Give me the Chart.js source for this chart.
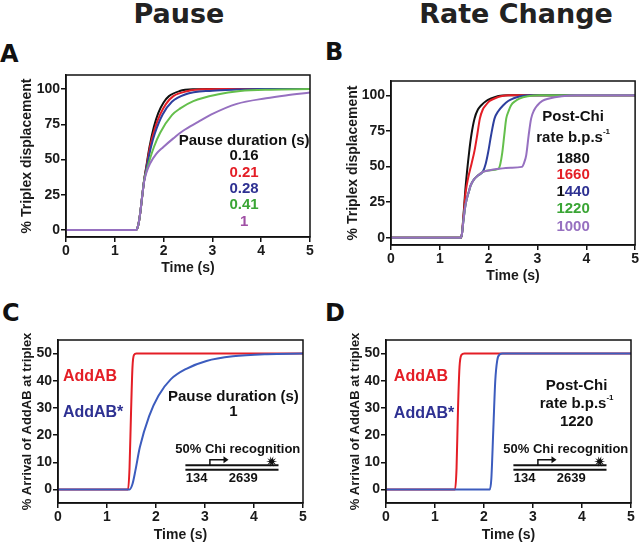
<!DOCTYPE html>
<html>
<head>
<meta charset="utf-8">
<script src="https://cdn.jsdelivr.net/npm/chart.js@4.4.1/dist/chart.umd.min.js"></script>
<style>
    body { margin: 0; background: #fff; }
    #page { position: relative; width: 640px; height: 542px; overflow: hidden; background: #fff; }
    #page canvas { position: absolute; }
    .head { position: absolute; font: bold 27px "DejaVu Sans", sans-serif; line-height: 27px; color: #222; white-space: nowrap; }
    .letter { position: absolute; font: bold 24px "DejaVu Sans", sans-serif; line-height: 24px; color: #111; }
</style>
</head>
<body>
<div id="page">
    <div class="head" style="left:0; width:358px; text-align:center; top:0;">Pause</div>
    <div class="head" style="left:395px; width:242px; text-align:center; top:0;">Rate Change</div>
    <div class="letter" style="left:0; top:42px;">A</div>
    <div class="letter" style="left:325px; top:40px;">B</div>
    <div class="letter" style="left:2px; top:301px;">C</div>
    <div class="letter" style="left:325px; top:301px;">D</div>

    <canvas id="chart-a" width="320" height="225" style="left:0; top:65px;"></canvas>
    <canvas id="chart-b" width="320" height="225" style="left:320px; top:65px;"></canvas>
    <canvas id="chart-c" width="320" height="214" style="left:0; top:330px;"></canvas>
    <canvas id="chart-d" width="320" height="214" style="left:320px; top:330px;"></canvas>
</div>

<script>
// shared axis ticks
const timeTicks = [0, 1, 2, 3, 4, 5];
const displacementTicks = [0, 25, 50, 75, 100];
const arrivalTicks = [0, 10, 20, 30, 40, 50];

// legend labels
const pauseDurations = ['0.16', '0.21', '0.28', '0.41', '1'];
const postChiRates = ['1880', '1660', '1440', '1220', '1000'];

// A: pause model, [time, % displacement]
const pauseBlack = [[0, 0], [1.44, 0], [1.47, 2], [1.5, 7], [1.52, 11.7], [1.56, 23.5], [1.6, 35], [1.65, 46], [1.71, 58.7], [1.8, 73], [1.89, 83], [2.0, 90.5], [2.11, 95], [2.33, 98.6], [2.6, 99.8], [3, 100], [5, 100]];
const pauseRed = [[0, 0], [1.44, 0], [1.47, 2], [1.5, 7], [1.52, 11.7], [1.56, 23.5], [1.6, 35], [1.65, 45], [1.72, 58.7], [1.82, 72], [1.93, 82], [2.05, 89.5], [2.2, 95], [2.5, 98.6], [2.8, 99.8], [3.2, 100], [5, 100]];
const pauseBlue = [[0, 0], [1.44, 0], [1.47, 2], [1.5, 7], [1.52, 11.7], [1.56, 23.5], [1.6, 35], [1.65, 44], [1.74, 58.7], [1.82, 68.5], [1.98, 82], [2.17, 91], [2.44, 96.2], [3.0, 98.9], [3.5, 99.7], [4, 100], [5, 100]];
const pauseGreen = [[0, 0], [1.44, 0], [1.47, 2], [1.5, 7], [1.52, 11.7], [1.56, 23.5], [1.6, 35], [1.65, 42], [1.8, 58.7], [1.93, 69], [2.17, 81.5], [2.35, 86.5], [2.61, 91.5], [3.1, 96.2], [3.57, 98.6], [4.2, 99.6], [5, 100]];
const pausePurple = [[0, 0], [1.44, 0], [1.47, 2], [1.5, 7], [1.52, 11.7], [1.56, 23.5], [1.6, 34], [1.65, 41], [1.72, 47], [1.85, 54], [1.99, 58.7], [2.2, 65], [2.4, 70.4], [2.7, 76.5], [2.98, 82], [3.5, 89.5], [4.1, 93.5], [4.5, 95.5], [5, 97.5]];

// B: rate change model
const rateBlack = [[0, 0], [1.42, 0], [1.45, 2], [1.48, 13.6], [1.53, 36.6], [1.6, 60], [1.65, 73], [1.71, 83.6], [1.78, 90], [1.85, 93], [1.95, 96], [2.05, 97.7], [2.2, 99.5], [2.4, 100], [5, 100]];
const rateRed = [[0, 0], [1.42, 0], [1.45, 2], [1.48, 13], [1.53, 32], [1.58, 42], [1.65, 52], [1.71, 61], [1.77, 73], [1.82, 83.6], [1.88, 90], [1.94, 93], [2.02, 96], [2.12, 97.7], [2.25, 99.3], [2.45, 100], [5, 100]];
const rateBlue = [[0, 0], [1.42, 0], [1.45, 2], [1.48, 11], [1.52, 22], [1.55, 27], [1.6, 33], [1.63, 36.6], [1.7, 41], [1.78, 43.7], [1.88, 46.3], [1.94, 52], [1.99, 60], [2.05, 72], [2.12, 83.6], [2.2, 89], [2.3, 93], [2.4, 96], [2.5, 97.7], [2.65, 99.3], [2.85, 100], [5, 100]];
const rateGreen = [[0, 0], [1.42, 0], [1.45, 2], [1.48, 11], [1.52, 22], [1.55, 27], [1.6, 33], [1.63, 36.6], [1.7, 41], [1.78, 43.7], [1.88, 46.3], [2.0, 47.3], [2.2, 48.4], [2.24, 52], [2.28, 60], [2.32, 72], [2.36, 83.6], [2.41, 89], [2.46, 93], [2.55, 96], [2.63, 97.7], [2.8, 99.3], [3.05, 100], [5, 100]];
const ratePurple = [[0, 0], [1.42, 0], [1.45, 2], [1.48, 11], [1.52, 22], [1.55, 27], [1.6, 33], [1.63, 36.6], [1.7, 41], [1.78, 43.7], [1.88, 46.3], [2.0, 47.3], [2.2, 48.4], [2.45, 49.2], [2.68, 49.8], [2.73, 53], [2.77, 58], [2.82, 72], [2.87, 83.6], [2.93, 89.5], [3.0, 93], [3.1, 96], [3.24, 97.7], [3.5, 99.3], [3.8, 100], [5, 100]];

// C: arrival at triplex, pause 1 s
const pauseAddAB = [[0, 0], [1.43, 0], [1.46, 8], [1.49, 28], [1.52, 45], [1.55, 49.5], [1.6, 50], [5, 50]];
const pauseAddABStar = [[0, 0], [1.46, 0], [1.52, 2], [1.58, 7], [1.67, 15.5], [1.86, 27], [2.05, 34.5], [2.3, 40.5], [2.63, 44.5], [3.03, 47.3], [3.57, 49], [4.26, 49.8], [5, 50]];

// D: arrival at triplex, post-Chi rate 1220
const rateAddAB = [[0, 0], [1.41, 0], [1.44, 8], [1.47, 30], [1.5, 45], [1.54, 49.5], [1.6, 50], [5, 50]];
const rateAddABStar = [[0, 0], [2.12, 0], [2.15, 4], [2.19, 22], [2.23, 40], [2.27, 47.5], [2.32, 49.7], [2.38, 50], [5, 50]];

const BLACK = '#111111', RED = '#e41e26', BLUE = '#2d3f9e', GREEN = '#64bf4c', PURPLE = '#9670c0';
const BLUE2 = '#3c5cbe', TXT_BLUE = '#2e3192', TXT_GREEN = '#3aa535', TXT_PURPLE = '#a050a5';

const FAMILY = '"Liberation Sans", Arial, sans-serif';
const boldFont = size => 'bold ' + size + 'px ' + FAMILY;

// box around the plot area
const framePlugin = {
    id: 'frame',
    afterDraw(chart) {
        const a = chart.chartArea, ctx = chart.ctx;
        ctx.save();
        ctx.strokeStyle = '#111';
        ctx.lineWidth = 1.5;
        ctx.strokeRect(a.left, a.top, a.right - a.left, a.bottom - a.top);
        ctx.restore();
    }
};

function drawNotes(chart, notes) {
    const { ctx, scales: { x, y } } = chart;
    ctx.save();
    ctx.textBaseline = 'middle';
    ctx.textAlign = 'left';
    notes.forEach(n => {
        const parts = n.parts || [{ text: n.text }];
        let total = 0;
        const widths = parts.map(p => {
            ctx.font = p.font || n.font;
            const w = ctx.measureText(p.text).width;
            total += w;
            return w;
        });
        let px = x.getPixelForValue(n.x);
        if (n.align !== 'left') px -= total / 2;
        const py = y.getPixelForValue(n.y);
        parts.forEach((p, i) => {
            ctx.font = p.font || n.font;
            ctx.fillStyle = p.color || n.color || BLACK;
            ctx.fillText(p.text, px, py + (p.dy || 0));
            px += widths[i];
        });
    });
    ctx.restore();
}

// little DNA substrate sketch: two strands, Chi arrow, triplex burst
function drawChiDiagram(chart) {
    const { ctx, scales: { x, y } } = chart;
    const X = v => x.getPixelForValue(v), Y = v => y.getPixelForValue(v);
    ctx.save();
    ctx.strokeStyle = '#111';
    ctx.fillStyle = '#111';
    ctx.lineWidth = 2;
    [8.9, 7.2].forEach(v => {
        ctx.beginPath();
        ctx.moveTo(X(2.6), Y(v));
        ctx.lineTo(X(4.5), Y(v));
        ctx.stroke();
    });
    ctx.lineWidth = 1.5;
    ctx.beginPath();
    ctx.moveTo(X(3.1), Y(8.9));
    ctx.lineTo(X(3.1), Y(10.9));
    ctx.lineTo(X(3.4), Y(10.9));
    ctx.stroke();
    const ax = X(3.48), ay = Y(10.9);
    ctx.beginPath();
    ctx.moveTo(ax, ay);
    ctx.lineTo(ax - 5, ay - 3.5);
    ctx.lineTo(ax - 5, ay + 3.5);
    ctx.closePath();
    ctx.fill();
    // burst
    const sx = X(4.36), sy = Y(10.3);
    ctx.beginPath();
    for (let k = 0; k < 20; k++) {
        const r = k % 2 === 0 ? 5.5 : 2.2;
        const ang = Math.PI * k / 10;
        const px = sx + r * Math.cos(ang), py = sy + r * Math.sin(ang);
        if (k === 0) ctx.moveTo(px, py); else ctx.lineTo(px, py);
    }
    ctx.closePath();
    ctx.fill();
    ctx.restore();
}

function buildPanel(canvasId, spec) {
    const ctx = document.getElementById(canvasId).getContext('2d');
    return new Chart(ctx, {
        type: 'line',
        data: {
            datasets: spec.series.map(s => ({
                data: s.points.map(p => ({ x: p[0], y: p[1] })),
                borderColor: s.color,
                borderWidth: 2,
                pointRadius: 0,
                fill: false,
                cubicInterpolationMode: 'monotone'
            }))
        },
        options: {
            responsive: false,
            animation: false,
            layout: { padding: spec.padding },
            plugins: { legend: { display: false }, tooltip: { enabled: false } },
            scales: {
                x: {
                    type: 'linear',
                    min: 0,
                    max: 5,
                    afterBuildTicks: axis => { axis.ticks = timeTicks.map(v => ({ value: v })); },
                    afterFit: scale => { scale.height = spec.xHeight; },
                    grid: { drawOnChartArea: false, drawTicks: true, tickLength: 5, color: '#111', lineWidth: 1.5 },
                    border: { display: true, color: '#111', width: 1.5 },
                    ticks: { font: { family: FAMILY, size: 14, weight: 'bold' }, color: '#1a1a1a', padding: 1, maxRotation: 0 },
                    title: {
                        display: true,
                        text: 'Time (s)',
                        color: '#1a1a1a',
                        font: { family: FAMILY, size: 14, weight: 'bold' },
                        padding: { top: 0, bottom: spec.xTitlePad }
                    }
                },
                y: {
                    type: 'linear',
                    min: spec.yMin,
                    max: spec.yMax,
                    afterBuildTicks: axis => { axis.ticks = spec.yTicks.map(v => ({ value: v })); },
                    afterFit: scale => { scale.width = spec.yWidth; },
                    grid: { drawOnChartArea: false, drawTicks: true, tickLength: 5, color: '#111', lineWidth: 1.5 },
                    border: { display: true, color: '#111', width: 1.5 },
                    ticks: { font: { family: FAMILY, size: 14, weight: 'bold' }, color: '#1a1a1a', padding: 1 },
                    title: {
                        display: true,
                        text: spec.yTitle,
                        color: '#1a1a1a',
                        font: { family: FAMILY, size: spec.yTitleSize, weight: 'bold' },
                        padding: { top: spec.yTitlePad, bottom: 0 }
                    }
                }
            }
        },
        plugins: [framePlugin, {
            id: 'notes',
            afterDatasetsDraw(chart) {
                drawNotes(chart, spec.notes);
                if (spec.diagram) drawChiDiagram(chart);
            }
        }]
    });
}

const legendFont = boldFont(15);
const smallFont = boldFont(13);
const nameFont = boldFont(16);

function valueNotes(labels, colors, x, ys) {
    return labels.map((t, i) => ({ text: t, x: x, y: ys[i], font: legendFont, color: colors[i] }));
}

function diagramNotes() {
    return [
        { text: '50% Chi recognition', x: 3.67, y: 14.7, font: smallFont },
        { text: '134', x: 2.83, y: 3.9, font: smallFont },
        { text: '2639', x: 3.78, y: 3.9, font: smallFont }
    ];
}

function rateTitle(x, y) {
    return {
        x: x, y: y, font: legendFont,
        parts: [{ text: 'rate b.p.s' }, { text: '-1', font: boldFont(8), dy: -6 }]
    };
}

document.addEventListener('DOMContentLoaded', () => {
    buildPanel('chart-a', {
        series: [
            { points: pausePurple, color: PURPLE },
            { points: pauseGreen, color: GREEN },
            { points: pauseBlue, color: BLUE },
            { points: pauseRed, color: RED },
            { points: pauseBlack, color: BLACK }
        ],
        yMin: -5, yMax: 110, yTicks: displacementTicks,
        padding: { top: 10, right: 10, left: 0, bottom: 0 },
        yWidth: 66, xHeight: 53, xTitlePad: 13.6,
        yTitle: '% Triplex displacement', yTitleSize: 14, yTitlePad: 18.6,
        notes: [{ text: 'Pause duration (s)', x: 3.65, y: 63.4, font: legendFont }]
            .concat(valueNotes(pauseDurations, [BLACK, RED, TXT_BLUE, TXT_GREEN, TXT_PURPLE], 3.65, [52.8, 40.4, 29.5, 17.6, 5.9]))
    });

    const rateNotes = [
        { text: 'Post-Chi', x: 3.73, y: 84.7, font: legendFont },
        rateTitle(3.73, 70.2),
        { text: postChiRates[0], x: 3.73, y: 55.4, font: legendFont, color: BLACK },
        { text: postChiRates[1], x: 3.73, y: 43.9, font: legendFont, color: RED },
        { x: 3.73, y: 32.2, font: legendFont, parts: [{ text: postChiRates[2].slice(0, 1), color: BLACK }, { text: postChiRates[2].slice(1), color: TXT_BLUE }] },
        { text: postChiRates[3], x: 3.73, y: 20.2, font: legendFont, color: TXT_GREEN },
        { text: postChiRates[4], x: 3.73, y: 8, font: legendFont, color: PURPLE }
    ];
    buildPanel('chart-b', {
        series: [
            { points: ratePurple, color: PURPLE },
            { points: rateGreen, color: GREEN },
            { points: rateBlue, color: BLUE },
            { points: rateRed, color: RED },
            { points: rateBlack, color: BLACK }
        ],
        yMin: -5, yMax: 110, yTicks: displacementTicks,
        padding: { top: 16, right: 4, left: 0, bottom: 0 },
        yWidth: 71, xHeight: 45, xTitlePad: 5.6,
        yTitle: '% Triplex displacement', yTitleSize: 14, yTitlePad: 24.6,
        notes: rateNotes
    });

    buildPanel('chart-c', {
        series: [
            { points: pauseAddABStar, color: BLUE2 },
            { points: pauseAddAB, color: RED }
        ],
        yMin: -5, yMax: 55, yTicks: arrivalTicks,
        padding: { top: 10, right: 17, left: 0, bottom: 0 },
        yWidth: 58, xHeight: 41, xTitlePad: 0.6,
        yTitle: '% Arrival of AddAB at triplex', yTitleSize: 13, yTitlePad: 19.2,
        diagram: true,
        notes: [
            { text: 'AddAB', x: 0.1, y: 41.5, font: nameFont, color: RED, align: 'left' },
            { text: 'AddAB*', x: 0.1, y: 28.4, font: nameFont, color: TXT_BLUE, align: 'left' },
            { text: 'Pause duration (s)', x: 3.58, y: 34.2, font: legendFont },
            { text: pauseDurations[4], x: 3.58, y: 28.4, font: legendFont }
        ].concat(diagramNotes())
    });

    buildPanel('chart-d', {
        series: [
            { points: rateAddABStar, color: BLUE2 },
            { points: rateAddAB, color: RED }
        ],
        yMin: -5, yMax: 55, yTicks: arrivalTicks,
        padding: { top: 10, right: 9, left: 0, bottom: 0 },
        yWidth: 66, xHeight: 41, xTitlePad: 0.6,
        yTitle: '% Arrival of AddAB at triplex', yTitleSize: 13, yTitlePad: 27.2,
        diagram: true,
        notes: [
            { text: 'AddAB', x: 0.16, y: 41.5, font: nameFont, color: RED, align: 'left' },
            { text: 'AddAB*', x: 0.16, y: 28, font: nameFont, color: TXT_BLUE, align: 'left' },
            { text: 'Post-Chi', x: 3.89, y: 38.2, font: legendFont },
            rateTitle(3.89, 31.5),
            { text: postChiRates[3], x: 3.89, y: 25, font: legendFont }
        ].concat(diagramNotes())
    });
});
</script>
</body>
</html>
